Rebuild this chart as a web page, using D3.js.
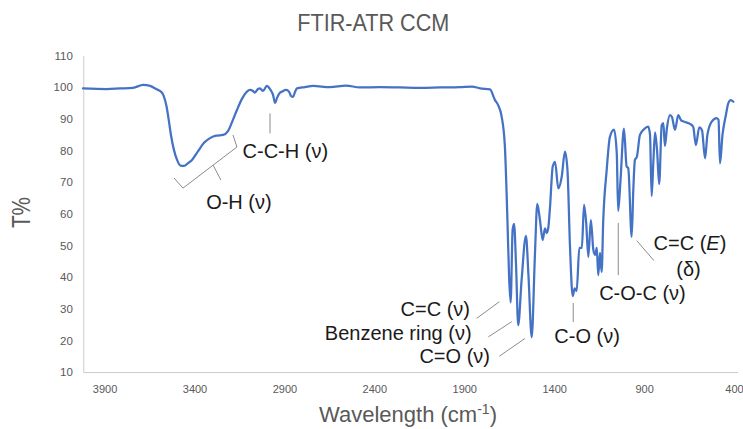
<!DOCTYPE html>
<html>
<head>
<meta charset="utf-8">
<script src="https://cdn.jsdelivr.net/npm/d3@7"></script>
<style>
  html, body { margin: 0; padding: 0; background: #ffffff; }
  svg { display: block; }
</style>
</head>
<body>
<script>
// ---------- DATA ----------
const chartTitle = "FTIR-ATR CCM";
const yTitle = "T%";
const xTitleMain = "Wavelength (cm";
const xTitleSup = "-1";

const xTickValues = [3900, 3400, 2900, 2400, 1900, 1400, 900, 400];
const yTickValues = [10, 20, 30, 40, 50, 60, 70, 80, 90, 100, 110];

const wavenumber = [
  4020, 3888, 3814, 3742, 3685, 3647, 3610, 3592, 3573, 3555, 3545, 3531, 3514, 3497, 3478, 3458,
  3436, 3414, 3380, 3347, 3314, 3280, 3241, 3214, 3191, 3164, 3136, 3108, 3091, 3075, 3064, 3047,
  3036, 3019, 2998, 2980, 2963, 2952, 2941, 2925, 2913, 2891, 2874, 2863, 2852, 2841, 2830, 2786,
  2741, 2647, 2558, 2480, 2368, 2257, 2146, 2035, 1924, 1857, 1812, 1757, 1729, 1712, 1692, 1674,
  1661, 1650, 1642, 1631, 1623, 1612, 1600, 1581, 1557, 1543, 1525, 1507, 1494, 1479, 1464, 1451,
  1442, 1433, 1423, 1408, 1395, 1377, 1358, 1340, 1326, 1312, 1297, 1286, 1275, 1260, 1246, 1234,
  1222, 1210, 1196, 1182, 1172, 1163, 1155, 1145, 1136, 1127, 1108, 1090, 1067, 1052, 1044, 1031,
  1012, 997, 988, 969, 960, 951, 940, 923, 895, 877, 867, 858, 848, 839, 828, 816,
  802, 793, 784, 773, 756, 745, 728, 710, 695, 673, 645, 627, 612, 593, 578, 561,
  548, 524, 496, 486, 478, 464, 445, 432, 418, 404
];
const transmittance = [
  99.6, 99.4, 99.6, 99.8, 100.7, 100.4, 99.3, 98.8, 97.5, 93.8, 90.3, 84.9, 80.1, 77.0, 75.2, 75.1,
  76.0, 77.0, 79.8, 82.4, 83.9, 84.7, 84.9, 86.1, 89.0, 92.8, 96.3, 98.6, 99.1, 98.8, 98.3, 99.4,
  99.6, 98.8, 100.4, 99.4, 97.5, 95.0, 96.6, 98.2, 98.6, 99.1, 98.5, 97.2, 96.9, 98.5, 99.6, 100.0,
  100.4, 100.0, 100.5, 99.9, 100.0, 99.9, 99.8, 99.9, 100.0, 100.2, 99.6, 99.3, 95.9, 94.4, 90.7, 81.2,
  60.2, 39.1, 32.0, 54.9, 56.8, 43.8, 24.8, 39.1, 53.0, 40.6, 21.0, 47.0, 63.1, 58.0, 51.7, 55.4,
  53.9, 55.4, 62.2, 74.9, 76.4, 68.0, 71.7, 79.6, 73.8, 49.6, 34.0, 36.4, 35.6, 49.2, 49.2, 62.8,
  57.1, 46.4, 58.0, 48.5, 47.0, 49.2, 40.6, 47.6, 41.6, 58.0, 73.8, 84.3, 86.6, 79.1, 60.9, 70.7,
  86.9, 74.9, 74.4, 52.7, 67.5, 77.0, 78.0, 84.9, 87.0, 87.5, 84.9, 65.6, 77.0, 85.7, 80.1, 69.4,
  88.0, 88.6, 81.4, 87.1, 91.2, 90.6, 86.5, 91.2, 89.6, 89.0, 88.4, 87.5, 81.7, 87.3, 86.4, 77.5,
  84.9, 89.1, 90.2, 89.6, 75.9, 84.9, 91.2, 94.9, 95.9, 95.4
];

// Single annotation labels: text, position in data units (wavenumber, T%)
const labelTexts   = ["O-H (ν)", "C-C-H (ν)", "C-O (ν)", "C-O-C (ν)", "C=C (", "(δ)"];
const labelItalic  = ["", "", "", "", "E", ""];
const labelTail    = ["", "", "", "", ")", ""];
const labelWn      = [3153, 2895, 1217, 909, 645, 653];
const labelT       = [61.6, 77.5, 19.2, 32.7, 48.5, 40.3];

// Stacked annotation block (right-aligned lines)
const stackTexts = ["C=C (ν)", "Benzene ring (ν)", "C=O (ν)"];
const stackWn    = [1868, 1859, 1757];
const stackT     = [27.6, 20.1, 12.85];

// Leader lines [wn1, T1, wn2, T2]
const leaderWn1 = [2980, 1831, 1766, 1705, 1294, 1043.5, 941];
const leaderT1  = [91.7, 26.95, 21.1, 15.0, 31.8, 57.1, 51.5];
const leaderWn2 = [2980, 1705, 1636, 1562, 1294, 1043.5, 845];
const leaderT2  = [85.4, 32.2, 25.9, 20.6, 25.8, 40.6, 45.2];

// O-H bracket
const bracketWn = [3514, 3464, 3164, 3186];
const bracketT  = [71.3, 68.1, 81.1, 84.9];
const bracketTickWn = [3297, 3253];
const bracketTickT  = [75.4, 70.65];

// ---------- CHART ----------
const W = 743, H = 429;
const svg = d3.select("body").append("svg").attr("width", W).attr("height", H);
svg.append("rect").attr("width", W).attr("height", H).attr("fill", "#ffffff");

const x = d3.scaleLinear().domain([4020, 380]).range([83, 737.6]);
const y = d3.scaleLinear().domain([10, 110]).range([372, 55.5]);

// Axes
const xAxis = d3.axisBottom(x).tickValues(xTickValues).tickSize(0).tickSizeOuter(0).tickPadding(13)
  .tickFormat(d3.format("d"));
const gx = svg.append("g").attr("transform", `translate(0,${y(10)})`).call(xAxis);
gx.select(".domain").attr("stroke", "#cccccc").attr("stroke-width", 1);
gx.selectAll("text").attr("font-family", "'Liberation Sans', Arial, sans-serif")
  .attr("font-size", 11).attr("fill", "#595959");

const yAxis = d3.axisLeft(y).tickValues(yTickValues).tickSize(0).tickSizeOuter(0).tickPadding(10.5)
  .tickFormat(d3.format("d"));
const gy = svg.append("g").attr("transform", `translate(${x(4020) + 0.3},0)`).call(yAxis);
gy.select(".domain").attr("stroke", "#cccccc").attr("stroke-width", 1);
gy.selectAll("text").attr("font-family", "'Liberation Sans', Arial, sans-serif")
  .attr("font-size", 11.5).attr("fill", "#595959");

// Spectrum line
const pts = wavenumber.map((w, i) => [w, transmittance[i]]);
const line = d3.line().x(d => x(d[0])).y(d => y(d[1])).curve(d3.curveMonotoneX);
svg.append("path").datum(pts).attr("d", line)
  .attr("fill", "none").attr("stroke", "#4472C4").attr("stroke-width", 2.25)
  .attr("stroke-linejoin", "round").attr("stroke-linecap", "round");

// Title
svg.append("text").attr("x", 373.3).attr("y", 30.5).attr("text-anchor", "middle")
  .attr("font-family", "'Liberation Sans', Arial, sans-serif").attr("font-size", 24)
  .attr("fill", "#595959").attr("textLength", 152).attr("lengthAdjust", "spacingAndGlyphs")
  .text(chartTitle);

// Y title
svg.append("text").attr("transform", "translate(30,212.5) rotate(-90)").attr("text-anchor", "middle")
  .attr("font-family", "'Liberation Sans', Arial, sans-serif").attr("font-size", 26)
  .attr("fill", "#595959").attr("textLength", 31).attr("lengthAdjust", "spacingAndGlyphs")
  .text(yTitle);

// X title
const xt = svg.append("text").attr("x", 408).attr("y", 422).attr("text-anchor", "middle")
  .attr("font-family", "'Liberation Sans', Arial, sans-serif").attr("font-size", 22)
  .attr("fill", "#595959");
xt.append("tspan").text(xTitleMain);
xt.append("tspan").attr("font-size", 14).attr("dy", -8).text(xTitleSup);
xt.append("tspan").attr("dy", 8).text(")");

// Leader lines
const ann = svg.append("g").attr("stroke", "#8c8c8c").attr("stroke-width", 1).attr("fill", "none");
leaderWn1.forEach((w, i) => {
  ann.append("line").attr("x1", x(w)).attr("y1", y(leaderT1[i]))
    .attr("x2", x(leaderWn2[i])).attr("y2", y(leaderT2[i]));
});
const bpts = bracketWn.map((w, i) => [x(w), y(bracketT[i])]);
ann.append("path").attr("d", d3.line()(bpts)).attr("stroke-linejoin", "miter");
ann.append("line").attr("x1", x(bracketTickWn[0])).attr("y1", y(bracketTickT[0]))
  .attr("x2", x(bracketTickWn[1])).attr("y2", y(bracketTickT[1]));

// Labels
const lg = svg.append("g").attr("font-family", "'Liberation Sans', Arial, sans-serif")
  .attr("font-size", 20).attr("fill", "#1a1a1a");
labelTexts.forEach((t, i) => {
  const el = lg.append("text").attr("x", x(labelWn[i])).attr("y", y(labelT[i]))
    .attr("text-anchor", "middle");
  el.append("tspan").text(t);
  if (labelItalic[i]) el.append("tspan").attr("font-style", "italic").text(labelItalic[i]);
  if (labelTail[i]) el.append("tspan").text(labelTail[i]);
});

// Stacked label lines (right-aligned)
stackTexts.forEach((t, i) => {
  lg.append("text").attr("text-anchor", "end")
    .attr("x", x(stackWn[i])).attr("y", y(stackT[i])).text(t);
});
</script>
</body>
</html>
